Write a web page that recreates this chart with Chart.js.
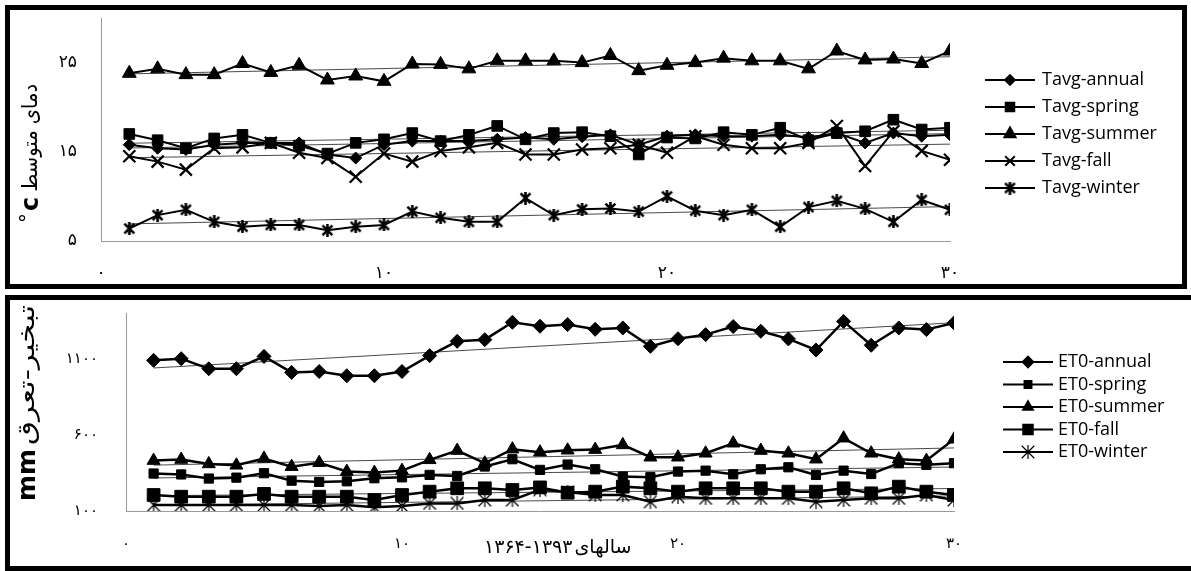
<!DOCTYPE html>
<html lang="fa">
<head>
<meta charset="UTF-8">
<title>Tavg / ET0</title>
<script src="https://cdn.jsdelivr.net/npm/chart.js@4.4.1/dist/chart.umd.min.js"></script>
<style>
  html, body { margin: 0; padding: 0; background: #fff; }
  body { width: 1191px; height: 571px; position: relative; overflow: hidden; }
  .frame { position: absolute; border: 5px solid #000; box-sizing: border-box; }
  #frameTop { left: 5px; top: 5px; width: 1182px; height: 284px; }
  #frameBottom { left: 5px; top: 295px; width: 1200px; height: 276px; }
  .box { position: absolute; left: 0; width: 1191px; }
  #boxTop { top: 0; height: 290px; }
  #boxBottom { top: 290px; height: 281px; }
</style>
</head>
<body>
<div class="frame" id="frameTop"></div>
<div class="frame" id="frameBottom"></div>
<div class="box" id="boxTop"><canvas id="tempChart"></canvas></div>
<div class="box" id="boxBottom"><canvas id="etoChart"></canvas></div>

<script>
// years of the record (1364-1393), as index 1..30
const years = [1, 2, 3, 4, 5, 6, 7, 8, 9, 10, 11, 12, 13, 14, 15, 16, 17, 18, 19, 20, 21, 22, 23, 24, 25, 26, 27, 28, 29, 30];
const xTicks = [0, 10, 20, 30];
const tempTicks = [5, 15, 25];
const etoTicks = [100, 600, 1100];

// mean temperature, C
const tavgAnnual = [15.8, 15.4, 15.25, 15.8, 16.0, 16.0, 16.0, 14.7, 14.3, 15.8, 16.2, 16.2, 16.2, 16.4, 16.6, 16.4, 16.7, 16.9, 15.8, 16.75, 16.9, 16.75, 16.75, 16.9, 16.6, 17.1, 16.0, 17.1, 16.75, 16.9];
const tavgSpring = [17.0, 16.3, 15.4, 16.5, 16.9, 16.0, 15.7, 14.8, 16.0, 16.4, 17.1, 16.2, 16.9, 17.9, 16.4, 17.1, 17.2, 16.75, 14.7, 16.6, 16.5, 17.2, 16.9, 17.7, 16.3, 17.1, 17.3, 18.6, 17.5, 17.7];
const tavgSummer = [23.8, 24.3, 23.65, 23.65, 24.9, 23.9, 24.7, 23.05, 23.5, 22.9, 24.85, 24.8, 24.3, 25.2, 25.2, 25.2, 25.0, 25.8, 24.1, 24.7, 25.0, 25.5, 25.2, 25.2, 24.3, 26.3, 25.3, 25.4, 24.9, 26.3];
const tavgFall = [14.5, 13.9, 13.0, 15.4, 15.5, 16.0, 14.9, 14.3, 12.2, 14.8, 13.9, 15.1, 15.5, 16.0, 14.7, 14.7, 15.25, 15.4, 15.8, 14.9, 16.75, 15.8, 15.4, 15.4, 16.0, 17.9, 13.4, 17.3, 15.1, 14.1];
const tavgWinter = [6.4, 7.9, 8.5, 7.15, 6.6, 6.8, 6.8, 6.2, 6.6, 6.8, 8.3, 7.6, 7.15, 7.15, 9.8, 7.9, 8.55, 8.65, 8.3, 10.0, 8.4, 7.9, 8.5, 6.6, 8.8, 9.5, 8.6, 7.15, 9.6, 8.5];

// reference evapotranspiration, mm
const etoAnnual = [1089, 1100, 1034, 1034, 1115, 1010, 1016, 988, 988, 1016, 1120, 1214, 1225, 1339, 1313, 1324, 1293, 1302, 1181, 1231, 1258, 1311, 1280, 1230, 1157, 1345, 1188, 1302, 1291, 1335];
const etoSpring = [346, 340, 313, 319, 348, 299, 291, 295, 315, 321, 337, 330, 392, 440, 370, 405, 374, 326, 322, 359, 365, 341, 374, 387, 337, 365, 343, 414, 403, 414];
const etoSummer = [431, 438, 409, 400, 445, 391, 417, 359, 352, 365, 436, 497, 414, 506, 486, 499, 503, 534, 453, 453, 479, 545, 497, 479, 440, 578, 479, 440, 431, 571];
const etoFall = [205, 194, 194, 194, 212, 194, 194, 194, 172, 205, 227, 249, 249, 238, 255, 220, 227, 260, 249, 227, 249, 249, 249, 227, 227, 249, 216, 260, 227, 205];
const etoWinter = [139, 139, 139, 139, 139, 139, 133, 139, 124, 133, 150, 150, 172, 172, 240, 225, 205, 205, 161, 194, 183, 183, 183, 183, 161, 172, 183, 183, 205, 172];

const faDigits = '۰۱۲۳۴۵۶۷۸۹';
function toFa(n) { return String(n).replace(/\d/g, d => faDigits[d]); }

function asterisk(size, lw) {
    const c = document.createElement('canvas');
    c.width = c.height = size;
    const g = c.getContext('2d');
    g.strokeStyle = '#000';
    g.lineWidth = lw;
    const m = lw * 0.6;
    g.beginPath();
    g.moveTo(m, m); g.lineTo(size - m, size - m);
    g.moveTo(size - m, m); g.lineTo(m, size - m);
    g.moveTo(size / 2, 0); g.lineTo(size / 2, size);
    g.stroke();
    return c;
}

// least squares trend line, drawn from the first to the last year
function trend(vals) {
    const n = years.length;
    const mx = years.reduce((a, b) => a + b, 0) / n;
    const my = vals.reduce((a, b) => a + b, 0) / n;
    let sxy = 0, sxx = 0;
    years.forEach((x, i) => { sxy += (x - mx) * (vals[i] - my); sxx += (x - mx) * (x - mx); });
    const b = sxy / sxx, a = my - b * mx;
    return [years[0], years[n - 1]].map(x => ({ x: x, y: a + b * x }));
}

function series(label, vals, style, radius, lineWidth, borderW) {
    return {
        label: label,
        data: years.map((x, i) => ({ x: x, y: vals[i] })),
        showLine: true,
        borderColor: '#000',
        backgroundColor: '#000',
        borderWidth: lineWidth,
        pointStyle: style,
        pointRadius: radius,
        pointHoverRadius: radius,
        pointBackgroundColor: '#000',
        pointBorderColor: '#000',
        pointBorderWidth: borderW,
        order: 0
    };
}

function trendSet(vals) {
    return {
        label: '',
        data: trend(vals),
        showLine: true,
        borderColor: '#4a4a4a',
        borderWidth: 1,
        pointRadius: 0,
        pointHoverRadius: 0,
        order: 1
    };
}

// legend, axis titles
const decor = {
    id: 'decor',
    afterDraw(chart, args, o) {
        const ctx = chart.ctx;
        ctx.save();
        const lg = o.legend;
        chart.data.datasets.filter(d => d.label).forEach((ds, i) => {
            const y = lg.y + i * lg.gap;
            ctx.strokeStyle = '#000';
            ctx.fillStyle = '#000';
            ctx.lineWidth = 2;
            ctx.beginPath();
            ctx.moveTo(lg.x, y);
            ctx.lineTo(lg.x + lg.len, y);
            ctx.stroke();
            Chart.helpers.drawPoint(ctx, {
                pointStyle: ds.pointStyle, rotation: 0,
                radius: ds.pointRadius * lg.scale, borderWidth: ds.pointBorderWidth
            }, lg.x + lg.len / 2, y);
            ctx.font = lg.font;
            ctx.textAlign = 'left';
            ctx.textBaseline = 'middle';
            ctx.fillText(ds.label, lg.x + lg.len + lg.pad, y);
        });

        // rotated y title drawn piece by piece, from the bottom up
        const t = o.yTitle;
        ctx.textAlign = 'left';
        ctx.textBaseline = 'middle';
        let pos = 0;
        t.parts.forEach(p => {
            ctx.font = p.font;
            const w = ctx.measureText(p.text).width;
            const sx = p.len ? p.len / w : 1;
            ctx.setTransform(1, 0, 0, 1, 0, 0);
            ctx.translate(t.x, t.y);
            ctx.rotate(-Math.PI / 2);
            ctx.translate(pos, p.dy || 0);
            ctx.scale(sx, 1);
            ctx.fillText(p.text, 0, 0);
            pos += w * sx + (p.gap || 0);
        });
        ctx.setTransform(1, 0, 0, 1, 0, 0);

        if (o.xTitle) {
            const xt = o.xTitle;
            ctx.font = xt.font;
            ctx.textBaseline = 'middle';
            ctx.textAlign = 'left';
            let px = xt.x;
            xt.parts.forEach(p => {
                ctx.fillText(p, px, xt.y);
                px += ctx.measureText(p).width + 2;
            });
        }
        ctx.restore();
    }
};

Chart.defaults.font.family = "'DejaVu Sans', sans-serif";
Chart.defaults.color = '#000';

function makeChart(id, sets, trends, yMin, yMax, yTicks, geo, decorOpts) {
    return new Chart(document.getElementById(id), {
        type: 'scatter',
        data: { datasets: sets.concat(trends) },
        options: {
            responsive: true,
            maintainAspectRatio: false,
            animation: false,
            events: [],
            layout: { autoPadding: false, padding: { left: 0, right: geo.right, top: geo.top, bottom: 0 } },
            plugins: {
                legend: { display: false },
                tooltip: { enabled: false },
                decor: decorOpts
            },
            scales: {
                x: {
                    type: 'linear', min: 0, max: 30,
                    grid: { display: false, drawTicks: false },
                    border: { display: true, color: '#9a9a9a', width: 1 },
                    afterBuildTicks: s => { s.ticks = xTicks.map(v => ({ value: v })); },
                    afterFit: s => { s.height = geo.xh; s.paddingLeft = 0; s.paddingRight = 0; },
                    ticks: { padding: geo.xpad, font: { size: geo.tickSize }, maxRotation: 0, callback: v => toFa(v) }
                },
                y: {
                    type: 'linear', min: yMin, max: yMax,
                    grid: { display: false, drawTicks: false },
                    border: { display: true, color: '#9a9a9a', width: 1 },
                    afterBuildTicks: s => { s.ticks = yTicks.map(v => ({ value: v })); },
                    // tick padding would otherwise push the plot top down
                    afterFit: s => { s.width = geo.left; s.paddingTop = 0; s.paddingBottom = 0; },
                    ticks: { padding: geo.ypad, font: { size: geo.tickSize }, callback: v => toFa(v) }
                }
            }
        },
        plugins: [decor]
    });
}

const star1 = asterisk(13, 2.6);
const star2 = asterisk(14, 1.2);

makeChart('tempChart', [
    series('Tavg-annual', tavgAnnual, 'rectRot', 6, 2, 1),
    series('Tavg-spring', tavgSpring, 'rect', 7.5, 2, 1),
    series('Tavg-summer', tavgSummer, 'triangle', 8, 2, 1),
    series('Tavg-fall', tavgFall, 'crossRot', 8.5, 2, 2.2),
    series('Tavg-winter', tavgWinter, star1, 7, 2, 1)
], [trendSet(tavgAnnual), trendSet(tavgSpring), trendSet(tavgSummer), trendSet(tavgFall), trendSet(tavgWinter)],
5, 30, tempTicks,
{ left: 101, right: 241, top: 18, xh: 49, xpad: 22, ypad: 24, tickSize: 17 },
{
    legend: { x: 985, y: 80, gap: 27, len: 50, pad: 7, scale: 0.8, font: "18px 'Open Sans'" },
    yTitle: { x: 32, y: 223, parts: [
        { text: '°', font: "20px 'DejaVu Sans'", gap: 2, dy: -3 },
        { text: 'c', font: "bold 24px 'DejaVu Sans'", gap: 5 },
        { text: 'دمای متوسط', font: "21px 'DejaVu Sans'", len: 108 }
    ] }
});

makeChart('etoChart', [
    series('ET0-annual', etoAnnual, 'rectRot', 7, 2.5, 1),
    series('ET0-spring', etoSpring, 'rect', 6.5, 2.5, 1),
    series('ET0-summer', etoSummer, 'triangle', 7.5, 2.5, 1),
    series('ET0-fall', etoFall, 'rect', 9, 2.5, 1),
    series('ET0-winter', etoWinter, star2, 7, 2.5, 1)
], [trendSet(etoAnnual), trendSet(etoSpring), trendSet(etoSummer), trendSet(etoFall), trendSet(etoWinter)],
100, 1400, etoTicks,
{ left: 126, right: 237, top: 23, xh: 60, xpad: 24, ypad: 28, tickSize: 15 },
{
    legend: { x: 1003, y: 72, gap: 22.5, len: 50, pad: 5, scale: 0.75, font: "18px 'Open Sans'" },
    yTitle: { x: 28, y: 211, parts: [
        { text: 'mm', font: "bold 25px 'DejaVu Sans'", gap: 4 },
        { text: 'تبخیر-تعرق', font: "23px 'DejaVu Sans'", len: 140 }
    ] },
    xTitle: { x: 484, y: 258, font: "19px 'DejaVu Sans'", parts: ['۱۳۶۴-۱۳۹۳', 'سالهای'] }
});
</script>
</body>
</html>
